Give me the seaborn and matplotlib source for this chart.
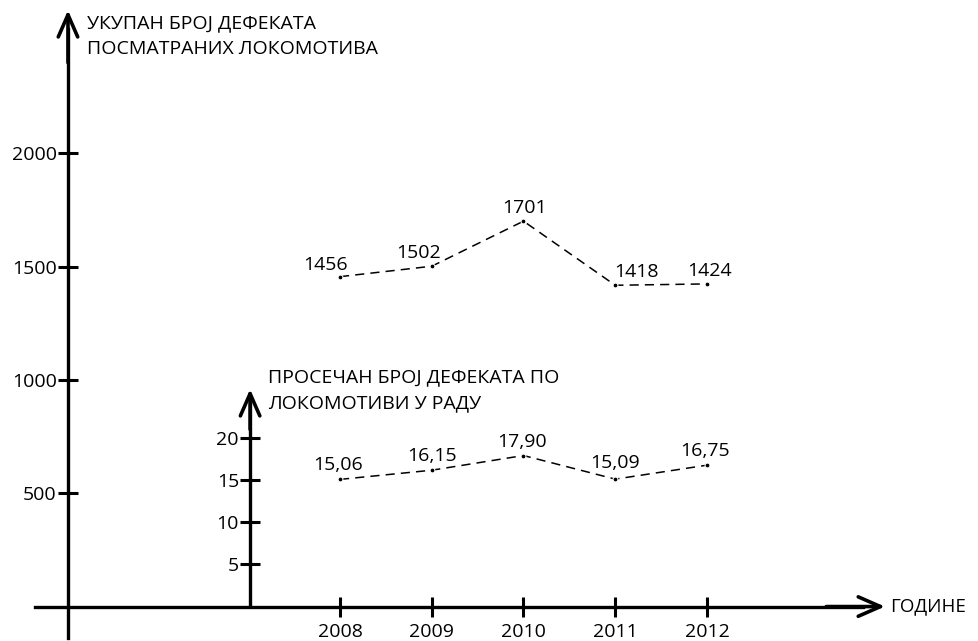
import matplotlib
matplotlib.use("Agg")
import matplotlib.pyplot as plt
import seaborn as sns
import pandas as pd

# data
years = [2008, 2009, 2010, 2011, 2012]
total_defects = [1456, 1502, 1701, 1418, 1424]
avg_defects = [15.06, 16.15, 17.90, 15.09, 16.75]
avg_labels = ["15,06", "16,15", "17,90", "15,09", "16,75"]
main_ticks = [500, 1000, 1500, 2000]
sub_ticks = [5, 10, 15, 20]

main_title = "УКУПАН БРОЈ ДЕФЕКАТА\nПОСМАТРАНИХ ЛОКОМОТИВА"
sub_title = "ПРОСЕЧАН БРОЈ ДЕФЕКАТА ПО\nЛОКОМОТИВИ У РАДУ"
x_title = "ГОДИНЕ"

# label offsets in pixels (layout only)
total_offsets = [(-15, 7), (-13, 8), (1, 8), (21, 8), (3, 8)]
avg_offsets = [(-2, 9), (0, 9), (-1, 9), (0, 11), (-2, 9)]

sns.set_style("white")
plt.rcParams["font.family"] = ["Open Sans", "DejaVu Sans"]
plt.rcParams["text.color"] = "black"
FS = 14

df = pd.DataFrame({"year": years, "total": total_defects, "avg": avg_defects})

fig = plt.figure(figsize=(9.79, 6.41), dpi=100)
ax = fig.add_axes([0, 0, 1, 1])
ax.set_facecolor("none")
ax.set_xlim(2004.294, 2014.965)
ax.set_ylim(-152, 2677)

x_main = 2005.035
x_sub = 2007.02

for s in ["top", "right"]:
    ax.spines[s].set_visible(False)
ax.spines["left"].set_position(("data", x_main))
ax.spines["bottom"].set_position(("data", 0))
ax.spines["left"].set_bounds(-139, 2550)
ax.spines["bottom"].set_bounds(2004.676, 2013.7)
for s in ["left", "bottom"]:
    ax.spines[s].set_linewidth(2.4)
    ax.spines[s].set_color("black")

ax.set_yticks(main_ticks)
ax.set_yticklabels([str(t) for t in main_ticks], fontsize=FS)
ax.set_xticks(years)
ax.set_xticklabels([str(y) for y in years], fontsize=FS)
ax.tick_params(axis="both", direction="inout", length=14, width=2.2, color="black",
               labelcolor="black", left=True, bottom=True)
ax.tick_params(axis="y", pad=1)
ax.tick_params(axis="x", pad=5)

# arrow heads
arrow = dict(arrowstyle="->,head_length=1.6,head_width=0.7", lw=2.6, color="black",
             shrinkA=0, shrinkB=0)
ax.annotate("", xy=(x_main, 2632), xytext=(x_main, 2400), arrowprops=arrow)
ax.annotate("", xy=(2013.94, 0), xytext=(2013.3, 0), arrowprops=arrow)

sns.lineplot(data=df, x="year", y="total", ax=ax, color="black", lw=1.1,
             marker="o", markersize=3.5, dashes=False, linestyle=(0, (6, 4)))
for yr, v, off in zip(years, total_defects, total_offsets):
    ax.annotate(str(v), (yr, v), xytext=off, textcoords="offset pixels",
                ha="center", va="baseline", fontsize=FS)

ax.text(2005.245, 2615, main_title, fontsize=FS, va="top", ha="left", linespacing=1.6)
ax.text(2014.0, 0, x_title, fontsize=13.5, va="center", ha="left")
ax.set_xlabel("")
ax.set_ylabel("")

# secondary axis for the average per locomotive
ax2 = fig.add_axes([0, 0, 1, 1], sharex=ax)
ax2.set_facecolor("none")
ax2.set_ylim(-4.17, 72.1)
for s in ["top", "right", "bottom"]:
    ax2.spines[s].set_visible(False)
ax2.spines["left"].set_position(("data", x_sub))
ax2.spines["left"].set_bounds(0, 24)
ax2.spines["left"].set_linewidth(2.4)
ax2.spines["left"].set_color("black")
ax2.set_yticks(sub_ticks)
ax2.set_yticklabels([str(t) for t in sub_ticks], fontsize=FS)
ax2.tick_params(axis="y", direction="inout", length=14, width=2.2, color="black",
                labelcolor="black", pad=1, left=True)
ax2.tick_params(axis="x", bottom=False, labelbottom=False)
ax2.annotate("", xy=(x_sub, 25.8), xytext=(x_sub, 21), arrowprops=arrow)

sns.lineplot(data=df, x="year", y="avg", ax=ax2, color="black", lw=1.1,
             marker="o", markersize=3.5, dashes=False, linestyle=(0, (6, 4)))
for yr, v, lab, off in zip(years, avg_defects, avg_labels, avg_offsets):
    ax2.annotate(lab, (yr, v), xytext=off, textcoords="offset pixels",
                 ha="center", va="baseline", fontsize=FS)

ax2.text(2007.22, 28.3, sub_title, fontsize=FS, va="top", ha="left", linespacing=1.6)
ax2.set_xlabel("")
ax2.set_ylabel("")

fig.savefig("out.png", dpi=100)
